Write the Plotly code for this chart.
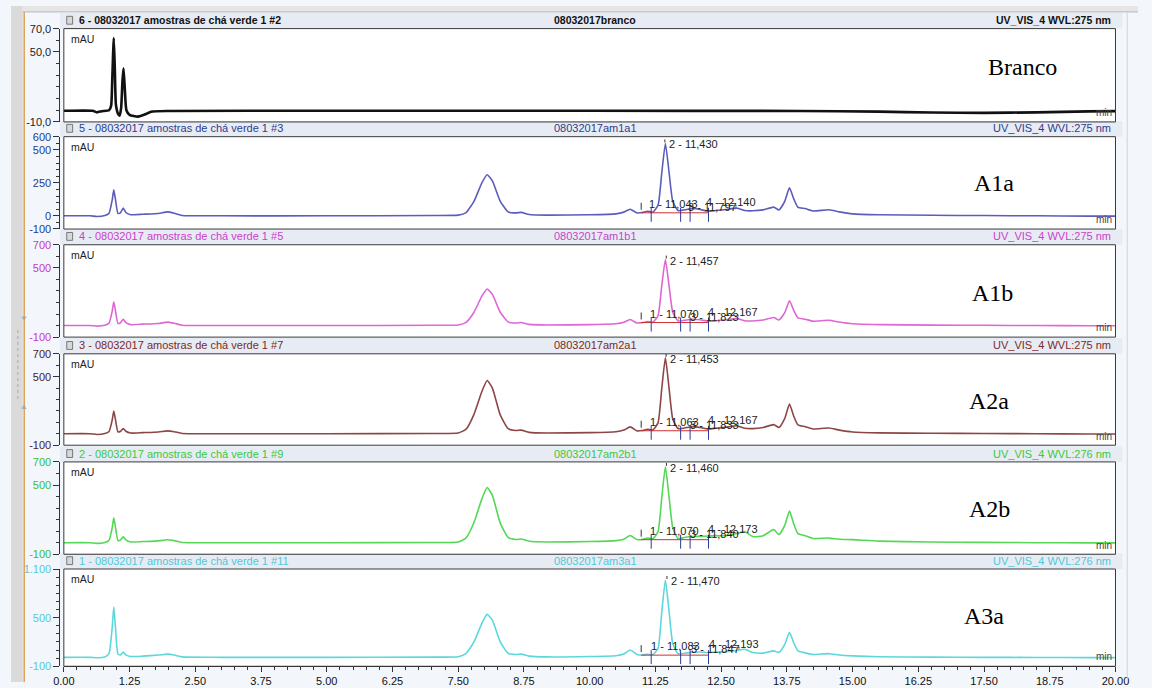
import plotly.graph_objects as go

W, H = 1152, 688

# ---------------- data ----------------
time_blank = [0.0, 0.55, 0.63, 0.72, 0.86, 0.9, 0.92, 0.95, 0.97, 0.99, 1.03, 1.06, 1.09, 1.115, 1.135,
              1.16, 1.19, 1.25, 1.41, 1.55, 1.66, 2.0, 5.0, 10.0, 14.0, 15.5, 16.5, 17.5, 18.5, 19.5, 20.0]
abs_blank = [-0.5, -0.5, -1.8, -0.8, 0.0, 4.0, 25.0, 62.0, 35.0, 5.0, -3.0, -4.7, 2.0, 25.0, 36.0,
             18.0, 0.0, -4.0, -5.5, -3.5, -1.2, -0.6, -0.5, -0.5, -0.6, -1.2, -2.0, -2.3, -1.8, -1.0, -0.8]

time = [0.0, 0.5, 0.63, 0.78, 0.86, 0.92, 0.95, 0.98, 1.03, 1.08, 1.13, 1.18, 1.27, 1.5, 1.8, 1.97, 2.1, 2.25,
        3.0, 5.0, 7.0, 7.5, 7.65, 7.8, 7.95, 8.05, 8.15, 8.3, 8.45, 8.6, 8.7, 8.85, 9.2, 10.0, 10.5, 10.65,
        10.77, 10.9, 11.0, 11.1, 11.2, 11.3, 11.37, 11.44, 11.51, 11.58, 11.68, 11.8, 11.95, 12.1, 12.25,
        12.4, 12.6, 12.8, 12.95, 13.1, 13.3, 13.5, 13.6, 13.71, 13.8, 13.88, 13.96, 14.1, 14.25, 14.55,
        14.75, 15.0, 15.5, 16.5, 17.5, 18.5, 19.5, 20.0]
abs_a1a = [0, 0, -5, 2, 20, 120, 198, 130, 18, 25, 58, 25, 8, 12, 18, 30, 20, 3,
           0, 0, 2, 5, 25, 110, 250, 312, 265, 110, 30, 22, 26, 10, 5, 8, 15, 28,
           50, 22, 25, 35, 28, 80, 320, 549, 330, 110, 40, 45, 55, 48, 35,
           40, 48, 58, 40, 38, 45, 66, 45, 110, 212, 130, 65, 55, 37, 46,
           30, 15, 8, 4, 2, 0, -2, -2]
abs_a1b = [0, 0, -5, 2, 22, 125, 206, 135, 18, 26, 55, 25, 8, 12, 18, 30, 20, 3,
           0, 0, 2, 5, 28, 115, 255, 317, 270, 115, 32, 22, 26, 10, 5, 8, 15, 28,
           52, 22, 25, 35, 28, 85, 340, 572, 345, 115, 40, 45, 55, 50, 38,
           40, 50, 60, 42, 40, 48, 70, 48, 112, 215, 132, 66, 55, 38, 46,
           30, 15, 8, 4, 2, 0, -2, -2]
abs_a2a = [0, 0, -6, 2, 20, 120, 200, 130, 16, 22, 45, 22, 6, 10, 16, 25, 18, 2,
           0, 0, 2, 6, 40, 170, 370, 467, 400, 165, 45, 28, 32, 12, 6, 10, 18, 32,
           60, 25, 28, 40, 32, 95, 390, 665, 400, 130, 45, 50, 62, 55, 42,
           48, 58, 70, 48, 45, 55, 80, 55, 135, 260, 155, 78, 62, 42, 50,
           32, 16, 8, 4, 2, 0, -2, -2]
abs_a2b = [0, 0, -6, 2, 22, 130, 215, 140, 18, 25, 50, 24, 6, 10, 16, 26, 18, 2,
           0, 0, 2, 6, 42, 175, 380, 479, 410, 170, 46, 28, 32, 12, 6, 10, 18, 30,
           62, 27, 28, 40, 34, 95, 385, 657, 395, 130, 36, 45, 53, 55, 58,
           61, 61, 80, 96, 53, 61, 113, 70, 150, 274, 165, 79, 60, 36, 40,
           30, 27, 14, 6, 3, 0, -2, -2]
abs_a3a = [10, 10, 5, 15, 60, 380, 630, 400, 50, 40, 74, 40, 20, 25, 38, 50, 38, 15,
           10, 10, 12, 18, 60, 200, 430, 540, 470, 200, 60, 45, 50, 25, 15, 20, 30, 50,
           100, 45, 38, 48, 42, 120, 560, 965, 580, 180, 55, 60, 72, 75, 70,
           75, 80, 95, 110, 70, 62, 90, 70, 170, 320, 190, 90, 65, 45, 55,
           38, 28, 18, 12, 10, 8, 6, 6]

panel_values = [abs_blank, abs_a1a, abs_a1b, abs_a2a, abs_a2b, abs_a3a]
panel_times = [time_blank, time, time, time, time, time]
panel_names = ["Branco", "A1a", "A1b", "A2a", "A2b", "A3a"]
header_left = ["6 - 08032017 amostras de chá verde 1 #2", "5 - 08032017 amostras de chá verde 1 #3",
               "4 - 08032017 amostras de chá verde 1 #5", "3 - 08032017 amostras de chá verde 1 #7",
               "2 - 08032017 amostras de chá verde 1 #9", "1 - 08032017 amostras de chá verde 1 #11"]
header_mid = ["08032017branco", "08032017am1a1", "08032017am1b1", "08032017am2a1",
              "08032017am2b1", "08032017am3a1"]
header_right = ["UV_VIS_4 WVL:275 nm", "UV_VIS_4 WVL:275 nm", "UV_VIS_4 WVL:275 nm",
                "UV_VIS_4 WVL:275 nm", "UV_VIS_4 WVL:276 nm", "UV_VIS_4 WVL:276 nm"]
y_ranges = [(-10, 70), (-100, 600), (-100, 700), (-100, 700), (-100, 700), (-100, 1100)]
y_tickvals = [[-10, 50, 70], [-100, 0, 250, 500, 600], [-100, 500, 700], [-100, 500, 700],
              [-100, 500, 700], [-100, 500, 1100]]
y_ticktext = [["-10,0", "50,0", "70,0"], ["-100", "0", "250", "500", "600"], ["-100", "500", "700"],
              ["-100", "500", "700"], ["-100", "500", "700"], ["-100", "500", "1.100"]]
y_minor_step = [10, 50, 100, 100, 100, 100]
x_tickvals = [0, 1.25, 2.5, 3.75, 5, 6.25, 7.5, 8.75, 10, 11.25, 12.5, 13.75, 15, 16.25, 17.5, 18.75, 20]
x_ticktext = ["0.00", "1.25", "2.50", "3.75", "5.00", "6.25", "7.50", "8.75", "10.00", "11.25",
              "12.50", "13.75", "15.00", "16.25", "17.50", "18.75", "20.00"]
peak_numbers = [1, 2, 3, 4]
peak_rt = [None,
           [11.043, 11.430, 11.797, 12.140],
           [11.070, 11.457, 11.823, 12.167],
           [11.063, 11.453, 11.833, 12.167],
           [11.070, 11.460, 11.840, 12.173],
           [11.083, 11.470, 11.847, 12.193]]
peak_bounds = [10.98, 11.17, 11.73, 11.91, 12.26]

# ---------------- styling ----------------
trace_colors = ["#111111", "#5C5CBC", "#E066D6", "#8C4646", "#55D855", "#5CD8DC"]
trace_widths = [2.6, 1.6, 1.6, 1.6, 1.6, 1.6]
label_colors = ["#222222", "#2A3A8A", "#C838C8", "#4A2222", "#38BE38", "#58CAD6"]
header_colors = ["#111111", "#2E3C8C", "#CC40CC", "#7A2A2A", "#3CC83C", "#50C8D8"]
tops = [23, 133, 243, 354, 464, 573]
bottoms = [118, 227, 337, 447, 558, 672]
big_pos = [(1034, 62), (1005, 180), (1003, 292), (1000, 402), (1000, 512), (995, 621)]
XL, XR = 54, 1129
SANS = "Liberation Sans, Arial, sans-serif"


def fx(px):
    return px / W


def fy(py):
    return 1 - py / H


fig = go.Figure()
layout = dict(width=W, height=H, margin=dict(l=0, r=0, t=0, b=0),
              paper_bgcolor="#F3F6FB", plot_bgcolor="white", showlegend=False,
              font=dict(family=SANS, size=11, color="#222"))
shapes = []
annotations = []

# frame decorations
shapes.append(dict(type="rect", xref="paper", yref="paper", x0=0, x1=fx(12), y0=0, y1=1,
                   fillcolor="#DADADA", line=dict(width=0), layer="below"))
shapes.append(dict(type="line", xref="paper", yref="paper", x0=fx(13.5), x1=fx(13.5), y0=0, y1=fy(6),
                   line=dict(color="#E2A050", width=1.5)))
shapes.append(dict(type="rect", xref="paper", yref="paper", x0=fx(12), x1=1, y0=fy(6), y1=1,
                   fillcolor="#E6E6E6", line=dict(width=0), layer="below"))
shapes.append(dict(type="line", xref="paper", yref="paper", x0=fx(12), x1=1, y0=fy(6), y1=fy(6),
                   line=dict(color="#B8B8B8", width=1)))
shapes.append(dict(type="line", xref="paper", yref="paper", x0=fx(1141), x1=fx(1141), y0=0, y1=fy(6),
                   line=dict(color="#C8D4E6", width=1)))

for i in range(6):
    n = i + 1
    sfx = "" if n == 1 else str(n)
    xa, ya = "x" + sfx, "y" + sfx
    lo, hi = y_ranges[i]
    span = hi - lo
    xaxis = dict(domain=[fx(XL), fx(XR)], range=[0, 20], anchor=ya, showgrid=False, zeroline=False,
                 fixedrange=True)
    if n == 6:
        xaxis.update(showline=True, linecolor="#333", linewidth=1, ticks="outside", ticklen=5,
                     tickcolor="#333", tickvals=x_tickvals, ticktext=x_ticktext,
                     tickfont=dict(size=11, color="#111"),
                     minor=dict(ticks="outside", ticklen=3, tickcolor="#333", dtick=0.25, tick0=0))
    else:
        xaxis.update(visible=False)
    yaxis = dict(domain=[fy(bottoms[i]), fy(tops[i])], range=[lo - span * 0.0005, hi + span * 0.0005],
                 anchor="free", position=fx(49.5), showgrid=False, zeroline=False,
                 showline=True, linecolor="#333", linewidth=1, ticks="outside", ticklen=6,
                 tickcolor="#333", tickvals=y_tickvals[i], ticktext=y_ticktext[i],
                 tickfont=dict(size=11, color=label_colors[i]), fixedrange=True,
                 minor=dict(ticks="outside", ticklen=3, tickcolor="#333", dtick=y_minor_step[i], tick0=lo))
    layout["xaxis" + sfx] = xaxis
    layout["yaxis" + sfx] = yaxis

    fig.add_trace(go.Scatter(x=panel_times[i], y=panel_values[i], xaxis=xa, yaxis=ya, mode="lines",
                             line=dict(color=trace_colors[i], width=trace_widths[i], shape="spline",
                                       smoothing=0.5),
                             hoverinfo="skip"))

    # plot box frame
    shapes.append(dict(type="rect", xref=xa + " domain", yref=ya + " domain", x0=0, x1=1, y0=0, y1=1,
                       line=dict(color="#3A3A3A", width=1), layer="above"))
    # header band
    shapes.append(dict(type="rect", xref="paper", yref="paper", x0=fx(50), x1=fx(1136),
                       y0=fy(tops[i]), y1=fy(tops[i] - 16 if n > 1 else 7),
                       fillcolor="#E7ECF4", line=dict(width=0), layer="below"))
    hy = tops[i] - 8.5
    # header icon
    shapes.append(dict(type="rect", xref="paper", yref="paper", x0=fx(57), x1=fx(63),
                       y0=fy(hy + 4), y1=fy(hy - 4), fillcolor="#D8D8D8",
                       line=dict(color="#777", width=1)))
    bold = n == 1
    def hdr(t):
        return "<b>" + t + "</b>" if bold else t
    annotations.append(dict(xref="paper", yref="paper", x=fx(67), y=fy(hy), xanchor="left",
                            yanchor="middle", showarrow=False, text=hdr(header_left[i]),
                            font=dict(size=10.5 if bold else 11, color=header_colors[i])))
    annotations.append(dict(xref="paper", yref="paper", x=fx(597), y=fy(hy), xanchor="center",
                            yanchor="middle", showarrow=False, text=hdr(header_mid[i]),
                            font=dict(size=10.5 if bold else 11, color=header_colors[i])))
    annotations.append(dict(xref="paper", yref="paper", x=fx(1126), y=fy(hy), xanchor="right",
                            yanchor="middle", showarrow=False, text=hdr(header_right[i]),
                            font=dict(size=10.5 if bold else 11, color=header_colors[i])))
    # mAU and min
    annotations.append(dict(xref=xa + " domain", yref=ya + " domain", x=0.005, y=1, yshift=-2,
                            xanchor="left", yanchor="top", showarrow=False, text="mAU",
                            font=dict(size=10.5, color="#222")))
    annotations.append(dict(xref=xa + " domain", yref=ya + " domain", x=1, y=0.1, xshift=-1,
                            xanchor="right", yanchor="middle", showarrow=False, text="min",
                            font=dict(size=10, color="#444")))
    # sample name
    bx, by = big_pos[i]
    annotations.append(dict(xref="paper", yref="paper", x=fx(bx), y=fy(by), xanchor="center",
                            yanchor="middle", showarrow=False, text=panel_names[i],
                            font=dict(family="Liberation Serif, Times New Roman, serif", size=24,
                                      color="#000")))

    # peak labels and integration marks
    if peak_rt[i] is not None:
        rts = peak_rt[i]
        vals = panel_values[i]
        apex = max(vals)
        for num, rt in zip(peak_numbers, rts):
            txt = f"{num} - {rt:.3f}".replace(".", ",")
            if num == 2:
                annotations.append(dict(xref=xa, yref=ya, x=rt, y=apex, xanchor="left", yanchor="middle",
                                        xshift=2, yshift=-1, showarrow=False, text=txt,
                                        font=dict(size=11, color="#222")))
                shapes.append(dict(type="line", xref=xa, yref=ya, x0=rt, x1=rt, ysizemode="pixel",
                                   yanchor=apex, y0=1, y1=7, line=dict(color="#333", width=1, dash="dot")))
            else:
                ys = {1: 12, 3: 9, 4: 14}[num]
                annotations.append(dict(xref=xa, yref=ya, x=rt, y=0, xanchor="left", yanchor="middle",
                                        xshift=2, yshift=ys, showarrow=False, text=txt,
                                        font=dict(size=11, color="#222")))
        shapes.append(dict(type="line", xref=xa, yref=ya, x0=peak_bounds[0], x1=peak_bounds[-1],
                           ysizemode="pixel", yanchor=0, y0=3, y1=3, line=dict(color="#D03030", width=1)))
        for b in peak_bounds[1:]:
            shapes.append(dict(type="line", xref=xa, yref=ya, x0=b, x1=b, ysizemode="pixel", yanchor=0,
                               y0=-6, y1=8, line=dict(color="#2A3A9A", width=1)))
        for b in peak_bounds[:1]:
            shapes.append(dict(type="line", xref=xa, yref=ya, x0=b, x1=b, ysizemode="pixel", yanchor=0,
                               y0=6, y1=13, line=dict(color="#333", width=1)))

# left splitter marks
annotations.append(dict(xref="paper", yref="paper", x=fx(7), y=fy(318), showarrow=False, text="▼",
                        font=dict(size=8, color="#A8A8A8")))
annotations.append(dict(xref="paper", yref="paper", x=fx(7), y=fy(408), showarrow=False, text="▲",
                        font=dict(size=8, color="#A8A8A8")))
shapes.append(dict(type="line", xref="paper", yref="paper", x0=fx(7), x1=fx(7), y0=fy(400), y1=fy(328),
                   line=dict(color="#A8A8A8", width=1, dash="dot")))

layout["shapes"] = shapes
layout["annotations"] = annotations
fig.update_layout(**layout)
fig.write_html("out.html")
